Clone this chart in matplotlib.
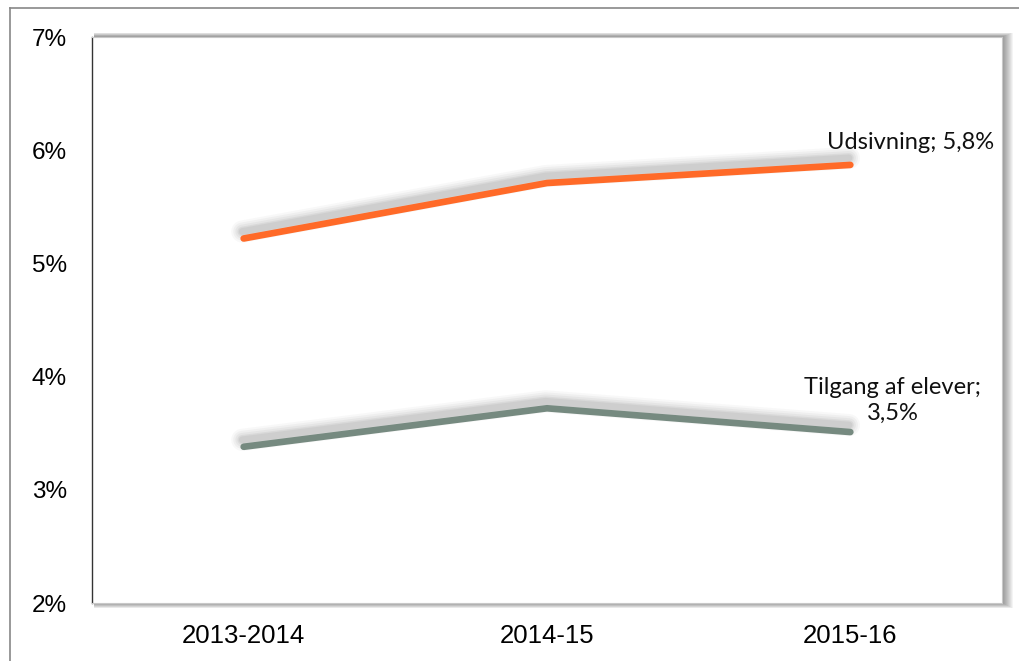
import matplotlib
matplotlib.use("Agg")
import matplotlib.pyplot as plt
import matplotlib.patheffects as pe
from matplotlib.patches import Rectangle

categories = ["2013-2014", "2014-15", "2015-16"]
udsivning = [5.22, 5.71, 5.87]
tilgang = [3.38, 3.72, 3.51]
yticks = [2, 3, 4, 5, 6, 7]
ytick_labels = ["2%", "3%", "4%", "5%", "6%", "7%"]
label_uds = "Udsivning; 5,8%"
label_til = "Tilgang af elever;\n3,5%"

W, H = 1020, 661
fig = plt.figure(figsize=(W / 100, H / 100), dpi=100)
fig.patch.set_facecolor("white")

# outer frame (partial, as in reference)
fig.add_artist(plt.Line2D([10 / W, 10 / W], [0, 1 - 8 / H], color="#888888", lw=1.2, transform=fig.transFigure))
fig.add_artist(plt.Line2D([10 / W, 1], [1 - 8 / H, 1 - 8 / H], color="#888888", lw=1.2, transform=fig.transFigure))

# plot area geometry
L, R, T, B = 92, 1002, 37, 603
ax = fig.add_axes([L / W, 1 - B / H, (R - L) / W, (B - T) / H])

# shadow of the plot area
for k in range(1, 12):
    x0 = L + 2
    x1 = R + k
    y0 = T - k * 0.4
    y1 = B + k * 0.45
    fig.add_artist(Rectangle((x0 / W, 1 - y1 / H), (x1 - x0) / W, (y1 - y0) / H,
                             transform=fig.transFigure, facecolor="black",
                             alpha=0.045, edgecolor="none", zorder=0))
ax.set_zorder(1)
ax.set_facecolor("white")

x = range(len(categories))

def shadow_effects():
    effs = []
    for w, a in [(16, 0.04), (13, 0.05), (10, 0.06), (7, 0.08), (5, 0.08)]:
        effs.append(pe.SimpleLineShadow(offset=(-1, 5), shadow_color="#555555", alpha=a, linewidth=w))
    effs.append(pe.Normal())
    return effs

ax.plot(x, udsivning, color="#FF6A28", lw=4.8, solid_capstyle="round",
        path_effects=shadow_effects(), zorder=3)
ax.plot(x, tilgang, color="#768A80", lw=4.8, solid_capstyle="round",
        path_effects=shadow_effects(), zorder=3)

ax.set_xlim(-0.5, 2.5)
ax.set_ylim(2, 7)
ax.set_xticks(list(x))
ax.set_xticklabels(categories, fontsize=18.5, family="Liberation Sans")
ax.set_yticks(yticks)
ax.set_yticklabels(ytick_labels, fontsize=17.5, family="Liberation Sans")
ax.tick_params(axis="both", length=0)
ax.tick_params(axis="y", pad=18)
ax.tick_params(axis="x", pad=15)
for s in ["top", "right", "bottom"]:
    ax.spines[s].set_color("#c8c8c8")
    ax.spines[s].set_linewidth(0.8)
ax.spines["left"].set_color("#333333")
ax.spines["left"].set_linewidth(1.0)

ax.annotate(label_uds, xy=(2, udsivning[2]), xytext=(2.475, 6.07), ha="right", va="center",
            fontsize=17, family="Lato", color="#111111")
ax.annotate(label_til, xy=(2, tilgang[2]), xytext=(2.14, 3.79), ha="center", va="center",
            fontsize=17, family="Lato", color="#111111", linespacing=1.3)

fig.savefig("out.png", dpi=100)
